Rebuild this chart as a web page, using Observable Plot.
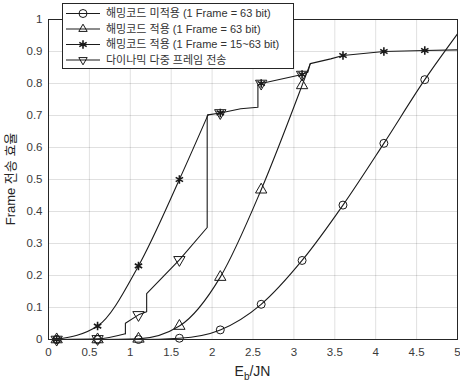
<!DOCTYPE html>
<html><head><meta charset="utf-8">
<script src="https://cdn.jsdelivr.net/npm/d3@7"></script>
<script src="https://cdn.jsdelivr.net/npm/@observablehq/plot@0.6"></script>
<style>
body{margin:0;background:#fff}
#chart{width:460px;height:382px}
</style>
</head><body><div id="chart"></div>
<script>
// ---- tick values and labels ----
const xTicks = [0,0.5,1,1.5,2,2.5,3,3.5,4,4.5,5];
const xTickLabels = ["0","0.5","1","1.5","2","2.5","3","3.5","4","4.5","5"];
const yTicks = [0,0.1,0.2,0.3,0.4,0.5,0.6,0.7,0.8,0.9,1];
const yTickLabels = ["0","0.1","0.2","0.3","0.4","0.5","0.6","0.7","0.8","0.9","1"];
const xLabelMain = "E";
const xLabelSub = "b";
const xLabelRest = "/JN";
const yLabel = "Frame 전송 효율";

// ---- legend labels ----
const seriesNames = [
  "해밍코드 미적용 (1 Frame = 63 bit)",
  "해밍코드 적용 (1 Frame = 63 bit)",
  "해밍코드 적용 (1 Frame = 15~63 bit)",
  "다이나믹 다중 프레임 전송"
];

// ---- series 1: uncoded (circle) ----
const uncodedLineX = [0.1,0.6,1.1,1.6,2.1,2.6,3.1,3.6,4.1,4.6,5.0];
const uncodedLineY = [0,0,0,0.004,0.03,0.11,0.247,0.42,0.613,0.812,0.955];
const uncodedMarkX = [0.1,0.6,1.1,1.6,2.1,2.6,3.1,3.6,4.1,4.6];
const uncodedMarkY = [0,0,0,0.004,0.03,0.11,0.247,0.42,0.613,0.812];

// ---- series 2: Hamming, 63 bit (triangle) ----
const ham63LineX = [0.1,0.6,1.1,1.6,2.1,2.6,3.1,3.2];
const ham63LineY = [0,0,0.002,0.042,0.195,0.468,0.794,0.862];
const ham63MarkX = [0.1,0.6,1.1,1.6,2.1,2.6,3.1];
const ham63MarkY = [0,0,0.002,0.042,0.195,0.468,0.794];

// ---- series 3: Hamming, 15~63 bit (asterisk) ----
const hamVarLineX = [0.1,0.6,1.1,1.6,1.95];
const hamVarLineY = [0,0.042,0.23,0.5,0.702];
const hamVarMarkX = [0.1,0.6,1.1,1.6,2.1,2.6,3.1,3.6,4.1,4.6];
const hamVarMarkY = [0,0.042,0.23,0.5,0.708,0.8,0.828,0.8875,0.9,0.903];

// ---- shared upper path (series 3 & 4) ----
const upperX = [1.95,2.1,2.35,2.56,2.56,2.6,3.1,3.17,3.2,3.45,3.6,4.1,4.6,5.0];
const upperY = [0.702,0.708,0.721,0.726,0.795,0.8,0.828,0.835,0.862,0.877,0.8875,0.9,0.903,0.905];

// ---- series 4: dynamic multi-frame (triangle down) ----
const dynSmoothX = [0.1,0.6,0.94];
const dynSmoothY = [0,0.002,0.018];
const dynStepX = [0.94,0.94,1.1,1.2,1.2,1.6,1.94,1.94,1.95];
const dynStepY = [0.018,0.051,0.077,0.087,0.143,0.249,0.35,0.698,0.702];
const dynMarkX = [0.1,0.6,1.1,1.6,2.1,2.6,3.1];
const dynMarkY = [0,0.002,0.077,0.249,0.708,0.8,0.828];

const pts = (xs, ys) => xs.map((x, i) => ({x, y: ys[i]}));
const ink = "#1a1a1a";
const lineOpts = {x: "x", y: "y", stroke: ink, strokeWidth: 1.1};
const fmtX = d => xTickLabels[xTicks.indexOf(d)];
const fmtY = d => yTickLabels[yTicks.indexOf(d)];
const FONT = "'Liberation Sans', Arial, 'Noto Sans CJK KR', sans-serif";

const chart = Plot.plot({
  width: 460, height: 382,
  marginLeft: 48, marginRight: 3, marginTop: 19, marginBottom: 43,
  style: {fontFamily: FONT, fontSize: "11.5px", color: "#3a3a3a", background: "#fff"},
  x: {domain: [0, 5]},
  y: {domain: [0, 1]},
  marks: [
    Plot.gridX(xTicks, {stroke: "#000", strokeOpacity: 0.12}),
    Plot.gridY(yTicks, {stroke: "#000", strokeOpacity: 0.12}),
    Plot.line(pts(uncodedLineX, uncodedLineY), {...lineOpts, curve: "monotone-x"}),
    Plot.line(pts(ham63LineX, ham63LineY), {...lineOpts, curve: "monotone-x"}),
    Plot.line(pts(hamVarLineX, hamVarLineY), {...lineOpts, curve: "monotone-x"}),
    Plot.line(pts(dynSmoothX, dynSmoothY), {...lineOpts, curve: "monotone-x"}),
    Plot.line(pts(dynStepX, dynStepY), {...lineOpts, curve: "linear"}),
    Plot.line(pts(upperX, upperY), {...lineOpts, curve: "linear"}),
    Plot.dot(pts(uncodedMarkX, uncodedMarkY), {x: "x", y: "y", symbol: "circle", r: 4, stroke: ink, fill: "none", strokeWidth: 1}),
    Plot.dot(pts(ham63MarkX, ham63MarkY), {x: "x", y: "y", symbol: "triangle", r: 4.2, stroke: ink, fill: "none", strokeWidth: 1}),
    Plot.dot(pts(dynMarkX, dynMarkY), {x: "x", y: "y", symbol: "triangle", r: 4.2, rotate: 180, stroke: ink, fill: "none", strokeWidth: 1}),
    Plot.dot(pts(hamVarMarkX, hamVarMarkY), {x: "x", y: "y", symbol: "asterisk", r: 4, stroke: ink, fill: "none", strokeWidth: 1.6}),
    Plot.frame({stroke: "#262626", strokeWidth: 1}),
    Plot.axisX(xTicks, {anchor: "bottom", tickSize: 0, tickPadding: 8, tickFormat: fmtX, label: null, fontSize: 11.5}),
    Plot.axisY(yTicks, {anchor: "left", tickSize: 0, tickPadding: 6, tickFormat: fmtY, label: null, fontSize: 11.5}),
  ]
});
document.getElementById("chart").appendChild(chart);

// ---- axis titles & legend ----
const svg = d3.select(chart);
const sx = chart.scale("x"), sy = chart.scale("y");
const midX = (sx.apply(0) + sx.apply(5)) / 2;
const midY = (sy.apply(0) + sy.apply(1)) / 2;

const xt = svg.append("text")
  .attr("x", midX).attr("y", 376)
  .attr("text-anchor", "middle")
  .attr("font-family", FONT).attr("font-size", 14).attr("fill", "#262626");
xt.append("tspan").text(xLabelMain);
xt.append("tspan").attr("font-size", 10).attr("dy", 4).text(xLabelSub);
xt.append("tspan").attr("dy", -4).text(xLabelRest);

svg.append("text")
  .attr("transform", `translate(15,${midY}) rotate(-90)`)
  .attr("text-anchor", "middle")
  .attr("font-family", FONT).attr("font-size", 13).attr("fill", "#262626")
  .text(yLabel);

const lg = svg.append("g");
lg.append("rect").attr("x", 62.5).attr("y", 3.5).attr("width", 231).attr("height", 65)
  .attr("fill", "#fff").attr("stroke", "#262626");
const rowY = [13.5, 29, 44.5, 60];
const symbols = [
  {type: d3.symbolCircle, rot: 0, sw: 1},
  {type: d3.symbolTriangle2, rot: 0, sw: 1},
  {type: d3.symbolAsterisk, rot: 0, sw: 1.6},
  {type: d3.symbolTriangle2, rot: 180, sw: 1}
];
seriesNames.forEach((name, i) => {
  const y = rowY[i];
  lg.append("line").attr("x1", 66).attr("x2", 100).attr("y1", y).attr("y2", y)
    .attr("stroke", ink).attr("stroke-width", 1.1);
  lg.append("path")
    .attr("d", d3.symbol(symbols[i].type, Math.PI * 16)())
    .attr("transform", `translate(83,${y}) rotate(${symbols[i].rot})`)
    .attr("fill", "none").attr("stroke", ink).attr("stroke-width", symbols[i].sw);
  lg.append("text").attr("x", 106).attr("y", y).attr("dy", "0.36em")
    .attr("text-anchor", "start")
    .attr("font-family", FONT).attr("font-size", 11).attr("fill", "#333")
    .text(name);
});
</script>
</body></html>
